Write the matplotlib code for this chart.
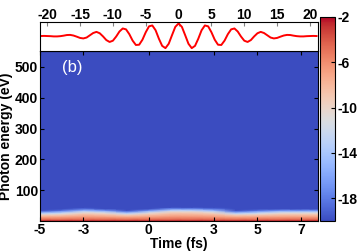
import numpy as np
import matplotlib
matplotlib.use('Agg')
import matplotlib.pyplot as plt

plt.rcParams['font.family'] = ['Liberation Sans', 'DejaVu Sans']
plt.rcParams['axes.unicode_minus'] = False

# driving field (top panel), sampled every 0.5 fs from -21 to 21
field_t = np.arange(-21, 21.5, 0.5)
field = [0.00, 0.01, 0.00, -0.01, -0.03, -0.03, -0.01, 0.03, 0.08, 0.09, 0.04,
         -0.05, -0.15, -0.19, -0.12, 0.06, 0.24, 0.33, 0.22, -0.03, -0.32, -0.47,
         -0.37, -0.04, 0.36, 0.60, 0.53, 0.15, -0.36, -0.71, -0.69, -0.29, 0.30,
         0.77, 0.84, 0.46, -0.21, -0.78, -0.96, -0.61, 0.07, 0.73,
         1.00,
         0.73, 0.07, -0.61, -0.96, -0.78, -0.21, 0.46, 0.84, 0.77, 0.30, -0.29,
         -0.69, -0.71, -0.36, 0.15, 0.53, 0.60, 0.36, -0.04, -0.37, -0.47, -0.32,
         -0.03, 0.22, 0.33, 0.24, 0.06, -0.12, -0.19, -0.15, -0.05, 0.04, 0.09,
         0.08, 0.03, -0.01, -0.03, -0.03, -0.01, 0.00, 0.01, 0.00]

# time-resolved spectrum (log10 intensity), one row per time
times = [-5, -4, -3, -2, -1, 0, 1, 2, 3, 4, 5, 6, 7, 7.8]
energies = [0, 3, 6, 10, 15, 20, 25, 30, 35, 40, 45, 550]
log_spec = [
    [-2, -3, -4.8, -6.0, -7.5, -9.5, -13.0, -17.0, -20, -20, -20, -20],
    [-2, -3, -4.7, -5.85, -7.25, -8.9, -11.5, -15.0, -18.5, -20, -20, -20],
    [-2, -3, -4.55, -5.6, -6.75, -7.9, -9.25, -11.5, -15, -18.5, -20, -20],
    [-2, -3, -4.6, -5.7, -7.0, -8.3, -10.0, -13.0, -17, -20, -20, -20],
    [-2, -3, -4.8, -6.0, -7.5, -9.5, -13.0, -17.0, -20, -20, -20, -20],
    [-2, -3, -4.6, -5.7, -7.0, -8.3, -10.0, -13.0, -17, -20, -20, -20],
    [-2, -3, -4.5, -5.5, -6.5, -7.5, -8.5, -10.0, -13, -17, -20, -20],
    [-2, -3, -4.5, -5.5, -6.5, -7.5, -8.5, -10.0, -13, -17, -20, -20],
    [-2, -3, -4.55, -5.6, -6.75, -7.9, -9.25, -11.5, -15, -18.5, -20, -20],
    [-2, -3, -4.8, -6.0, -7.5, -9.5, -13.0, -17.0, -20, -20, -20, -20],
    [-2, -3, -4.7, -5.85, -7.25, -8.9, -11.5, -15.0, -18.5, -20, -20, -20],
    [-2, -3, -4.6, -5.7, -7.0, -8.3, -10.0, -13.0, -17, -20, -20, -20],
    [-2, -3, -4.6, -5.7, -7.0, -8.3, -10.0, -13.0, -17, -20, -20, -20],
    [-2, -3, -4.6, -5.7, -7.0, -8.3, -10.0, -13.0, -17, -20, -20, -20],
]
time_ticks = [-5, -3, 0, 3, 5, 7]
energy_ticks = [100, 200, 300, 400, 500]
field_ticks = [-20, -15, -10, -5, 0, 5, 10, 15, 20]
cbar_ticks = [-2, -6, -10, -14, -18]

fs = 10
fig = plt.figure(figsize=(3.6, 2.52), dpi=100)
ax = fig.add_axes([0.111, 0.123, 0.772, 0.675])
axf = fig.add_axes([0.111, 0.798, 0.772, 0.115])
cax = fig.add_axes([0.889, 0.123, 0.042, 0.81])

# top panel: field
axf.plot(field_t, field, color='red', lw=1.4)
axf.set_xlim(-21.1, 21.2)
axf.set_ylim(-1.18, 1.12)
axf.set_yticks([])
axf.xaxis.tick_top()
axf.set_xticks(field_ticks)
axf.tick_params(axis='x', direction='in', length=3, color='gray', pad=0,
                labelsize=fs)
for lab in axf.get_xticklabels():
    lab.set_fontweight('bold')

# main panel: spectrum
T, E = np.meshgrid(times, energies)
C = np.array(log_spec).T
mesh = ax.pcolormesh(T, E, C, cmap='coolwarm', vmin=-20, vmax=-2,
                     shading='gouraud')
ax.set_xlim(-5, 7.78)
ax.set_ylim(0, 552)
ax.set_xticks(time_ticks)
ax.set_yticks(energy_ticks)
ax.tick_params(direction='in', length=3, top=True, right=True, pad=1.5,
               labelsize=fs)
for lab in ax.get_xticklabels() + ax.get_yticklabels():
    lab.set_fontweight('bold')
ax.set_xlabel('Time (fs)', fontsize=fs, fontweight='bold', labelpad=0)
ax.set_ylabel('Photon energy (eV)', fontsize=fs, fontweight='bold', labelpad=1)
ax.text(0.08, 0.9, '(b)', transform=ax.transAxes, color='white', fontsize=12,
        va='center')

cb = fig.colorbar(mesh, cax=cax, ticks=cbar_ticks)
cb.ax.tick_params(direction='in', length=3, labelsize=fs, pad=1.5)
for lab in cb.ax.get_yticklabels():
    lab.set_fontweight('bold')

fig.savefig('out.png', dpi=100)
